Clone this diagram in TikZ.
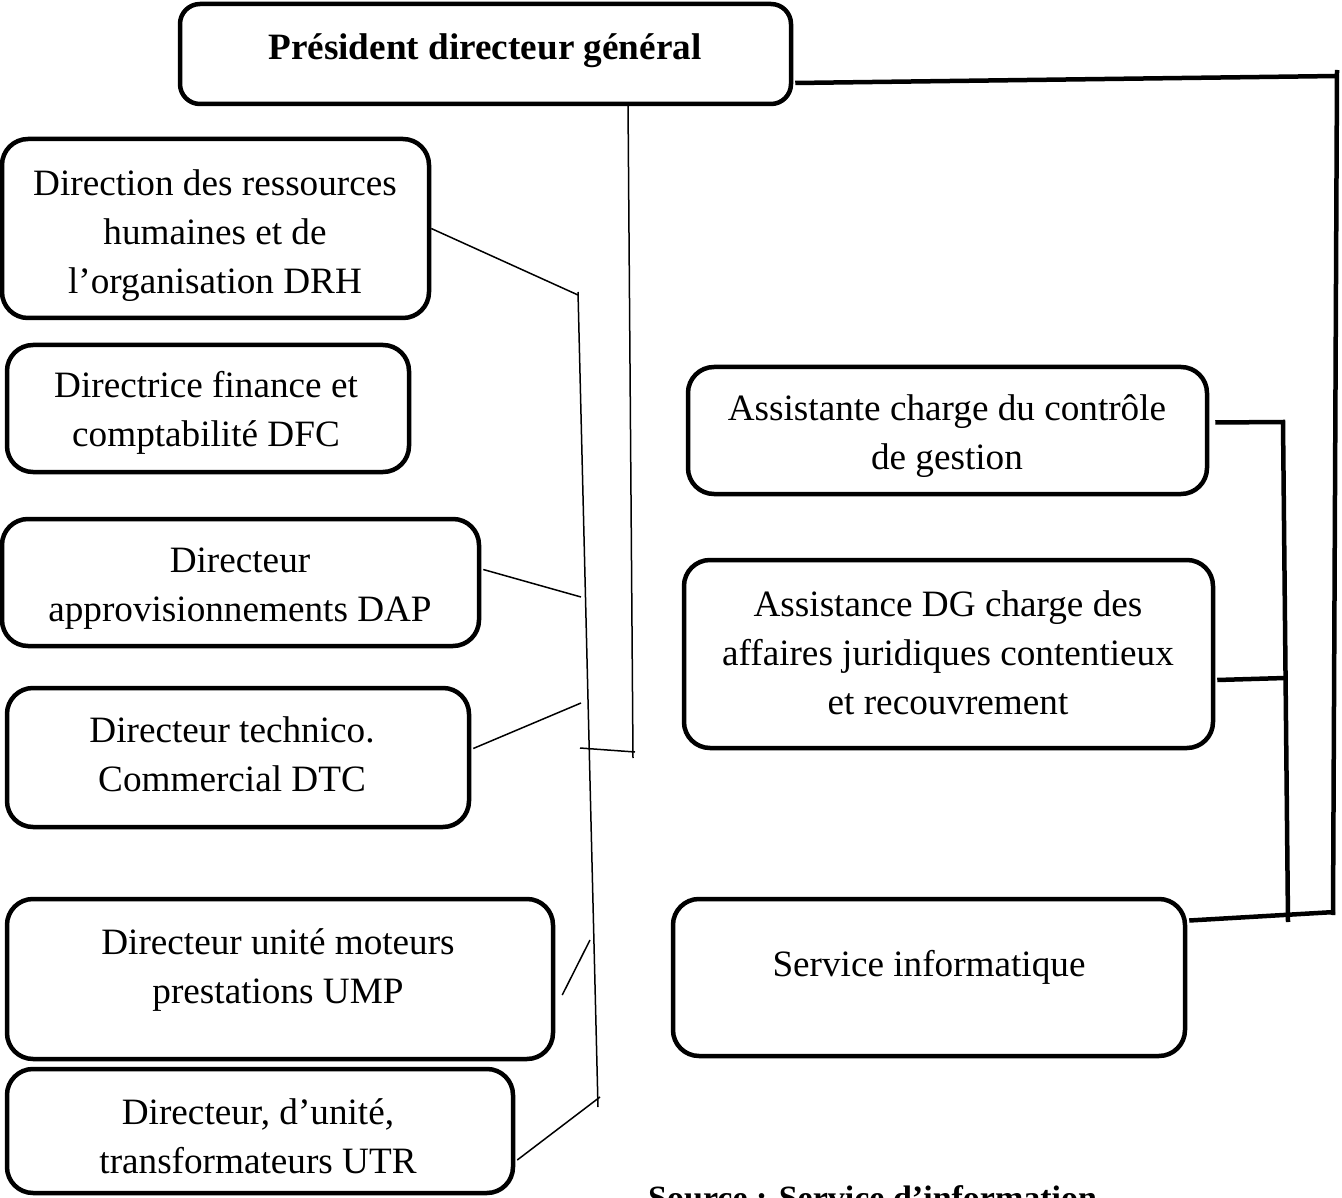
\documentclass[tikz,border=0pt]{standalone}
\usepackage{fontspec}
\setmainfont{Liberation Serif}
\usetikzlibrary{calc}
\newcommand\boxtext[1]{\begin{tabular}{@{}c@{}}#1\end{tabular}}
\begin{document}
\begin{tikzpicture}[x=1pt,y=-1pt,
  box/.style={draw, line width=4.5pt, rounded corners=26pt, inner sep=0pt},
  lbl/.style={inner sep=0pt, font=\fontsize{37.2}{49}\selectfont},
  thinline/.style={line width=1.5pt},
  thickline/.style={line width=4.5pt}]
\useasboundingbox (0,0) rectangle (1342,1198);
% boxes
\node[box, minimum width=611pt, minimum height=100pt, rounded corners=20pt] (pdg) at (485.5,54) {};
\node[box, minimum width=427pt, minimum height=179pt] (drh) at (215.5,228.5) {};
\node[box, minimum width=402pt, minimum height=127pt] (dfc) at (208,408.5) {};
\node[box, minimum width=477pt, minimum height=127pt] (dap) at (240.5,582.5) {};
\node[box, minimum width=462pt, minimum height=139pt] (dtc) at (238,757.5) {};
\node[box, minimum width=546pt, minimum height=160pt] (ump) at (280,979) {};
\node[box, minimum width=506pt, minimum height=124pt] (utr) at (260,1131) {};
\node[box, minimum width=519pt, minimum height=127pt] (acg) at (947.5,430.5) {};
\node[box, minimum width=529pt, minimum height=188pt] (adg) at (948.5,654) {};
\node[box, minimum width=512pt, minimum height=157pt] (si) at (929,977.5) {};
% texts
\node[lbl] (pdgt) at (485,50) {\boxtext{\bfseries Président directeur général}};
\node[lbl] (drht) at (215,234.5) {\boxtext{Direction des ressources\\humaines et de\\l’organisation DRH}};
\node[lbl] (dfct) at (206,412.5) {\boxtext{Directrice finance et\\comptabilité DFC}};
\node[lbl] (dapt) at (240,587) {\boxtext{Directeur\\approvisionnements DAP}};
\node[lbl] (dtct) at (232,757.5) {\boxtext{Directeur technico.\\Commercial DTC}};
\node[lbl] (umpt) at (278,969) {\boxtext{Directeur unité moteurs\\prestations UMP}};
\node[lbl] (utrt) at (258,1139.5) {\boxtext{Directeur, d’unité,\\transformateurs UTR}};
\node[lbl] (acgt) at (947,435.5) {\boxtext{Assistante charge du contrôle\\de gestion}};
\node[lbl] (adgt) at (948,655.5) {\boxtext{Assistance DG charge des\\affaires juridiques contentieux\\et recouvrement}};
\node[lbl] (sit) at (929,967) {\boxtext{Service informatique}};
\node[inner sep=0pt, anchor=base west, font=\fontsize{34}{40}\selectfont\bfseries] (src) at (648,1209) {Source : Service d’information};
% left side thin connectors
\coordinate (pb) at (633,758);
\coordinate (tk1) at (580,748);
\coordinate (tk2) at (635,752);
\coordinate (bt) at (578,292);
\coordinate (bb) at (598,1107);
\coordinate (b1) at (578,295);
\coordinate (b2) at (581,597);
\coordinate (b3) at (581,703);
\coordinate (b4) at (590,940);
\coordinate (b5) at (600,1097);
\draw[thinline] ($(pdg.south)+(142.5,-4)$) -- (pb);
\draw[thinline] (tk1) -- (tk2);
\draw[thinline] (bt) -- (bb);
\draw[thinline] (drh.east) -- (b1);
\draw[thinline] ($(dap.east)+(2,-13)$) -- (b2);
\draw[thinline] ($(dtc.east)+(2,-9)$) -- (b3);
\draw[thinline] ($(ump.east)+(7,16)$) -- (b4);
\draw[thinline] ($(utr.east)+(2,29)$) -- (b5);
% right side thick connectors
\coordinate (r1) at (1337,76);
\coordinate (r1t) at (1337,70);
\coordinate (r2) at (1333,915);
\coordinate (r3) at (1335,912);
\coordinate (r4) at (1283,422);
\coordinate (r5) at (1288,922);
\coordinate (r6) at (1285,678);
\draw[thickline] ($(pdg.east)+(2,29)$) -- (r1);
\draw[thickline] (r1t) -- (r2);
\draw[thickline] ($(si.east)+(2,-57)$) -- (r3);
\draw[thickline] ($(acg.east)+(6,-8)$) -- (r4) -- (r5);
\draw[thickline] ($(adg.east)+(2,26)$) -- (r6);
\end{tikzpicture}
\end{document}
